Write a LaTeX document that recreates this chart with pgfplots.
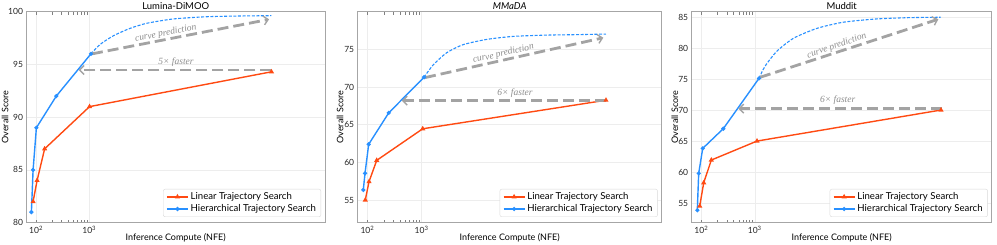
\documentclass[border=0pt]{standalone}
\usepackage{pgfplots}
\pgfplotsset{compat=1.18}
\usepackage{fontspec}
\setmainfont{Lato}
\newfontfamily\annfont{Liberation Serif}
\usetikzlibrary{arrows.meta}
\definecolor{cred}{HTML}{FF4A12}
\definecolor{cblue}{HTML}{2890FF}
\definecolor{cgray}{HTML}{A3A3A3}
\definecolor{tgray}{HTML}{8C8C8C}
\pgfplotsset{
  every axis title/.style={font=\fontsize{9.5}{10}\selectfont, at={(0.5,1)}, anchor=center, yshift=6pt},
  every axis x label/.style={at={(0.5,0)}, anchor=center, yshift=-15pt},
  myax/.style={
    scale only axis, height=211pt, anchor=south west,
    xmin=66.07, xmax=2.723e7,
    xtick={100,1000}, xticklabels={10\textsuperscript{2},10\textsuperscript{3}},
    /pgf/number format/assume math mode=true,
    major tick length=0pt,
    grid=major,
    major grid style={draw=black!7, line width=0.5pt},
    axis line style={draw=black!35, line width=0.7pt},
    tick label style={font=\fontsize{8.5}{9}\selectfont, text=black!85},
    label style={font=\fontsize{9}{10}\selectfont},
    xlabel={Inference Compute (NFE)},
    ylabel={Overall Score},
    legend style={at={(rel axis cs:0.987,0.027)}, anchor=south east,
      font=\fontsize{9.6}{11}\selectfont, draw=black!15, rounded corners=2pt,
      inner xsep=3pt, inner ysep=1.5pt, row sep=-0.5pt},
    legend cell align=left,
    legend image code/.code={\draw[mark repeat=2,mark phase=2] plot coordinates {(0cm,0cm)(0.37cm,0cm)(0.74cm,0cm)};},
  },
  redline/.style={cred, line width=1.4pt, mark=triangle*, mark size=1.6pt, mark options={solid}},
  blueline/.style={cblue, line width=1.4pt, mark=*, mark size=1.3pt, mark options={solid}},
  predline/.style={cblue, line width=1.1pt, dash pattern=on 3pt off 1.6pt, smooth, tension=0.4},
}
\tikzset{
  garrow/.style={cgray, line width=2.8pt, dash pattern=on 11pt off 5pt,
    -{Straight Barb[line width=1.4pt, length=4.5pt, width=9pt]}},
  anntext/.style={font=\annfont\itshape\fontsize{9.5}{10}\selectfont, text=tgray},
}
\begin{document}
\begin{tikzpicture}[x=1pt,y=1pt]
\useasboundingbox (0,0) rectangle (997,244);
% ---------------- Panel 1
\begin{axis}[xmode=log, myax, at={(26.5pt,21.33pt)}, width=298.5pt,
  ymin=80, ymax=100, ytick={80,85,90,95,100},
  title={Lumina-DiMOO},
  ylabel style={at={(axis description cs:-0.072,0.5)}, anchor=center}]
\addplot[redline] coordinates {(87.9,82) (104.5,84) (144.9,87) (1014,91) (2.68e6,94.3)};
\addlegendentry{Linear Trajectory Search}
\addplot[blueline] coordinates {(81.7,81) (87.9,85) (101.4,89) (240.4,92) (1076,96)};
\addlegendentry{Hierarchical Trajectory Search}
\addplot[predline, forget plot] coordinates {(1076,96.0) (1607,96.9) (2858,97.72) (5875,98.42) (1.211e4,98.9) (3.819e4,99.31) (1.614e5,99.52) (6.808e5,99.59) (2.679e6,99.62)};
\draw[garrow] (axis cs:1125,96.0) -- (axis cs:2.415e6,99.27);
\draw[garrow] (axis cs:2.68e6,94.47) -- (axis cs:631,94.47);
\node[anntext, rotate=11] at (axis cs:2.748e4,97.95) {curve prediction};
\node[anntext] at (axis cs:4.285e4,95.17) {5× faster};
\end{axis}
% ---------------- Panel 2
\begin{axis}[xmode=log, myax, at={(357.7pt,21.33pt)}, width=304pt,
  ymin=52, ymax=80, ytick={55,60,65,70,75},
  title={\textit{MMaDA}},
  ylabel style={at={(axis description cs:-0.058,0.5)}, anchor=center}]
\addplot[redline] coordinates {(91.2,55.0) (106.9,57.44) (148.3,60.27) (1050,64.46) (2.547e6,68.25)};
\addlegendentry{Linear Trajectory Search}
\addplot[blueline] coordinates {(83.8,56.34) (90.2,58.55) (105.4,62.4) (247.2,66.57) (1109,71.3)};
\addlegendentry{Hierarchical Trajectory Search}
\addplot[predline, forget plot] coordinates {(1109,71.3) (1644,72.95) (2911,74.55) (5834,75.62) (1.596e4,76.32) (4.943e4,76.72) (2.046e5,76.89) (7.328e5,76.95) (2.547e6,77.03)};
\draw[garrow] (axis cs:1156,71.25) -- (axis cs:2.275e6,76.54);
\draw[garrow] (axis cs:2.547e6,68.2) -- (axis cs:429.5,68.2);
\node[anntext, rotate=13] at (axis cs:3.236e4,74.43) {curve prediction};
\node[anntext] at (axis cs:5.321e4,69.13) {6× faster};
\end{axis}
% ---------------- Panel 3
\begin{axis}[xmode=log, myax, at={(691.7pt,21.33pt)}, width=300pt,
  ymin=51.9, ymax=85.9, ytick={55,60,65,70,75,80,85},
  title={Muddit},
  ylabel style={at={(axis description cs:-0.056,0.5)}, anchor=center}]
\addplot[redline] coordinates {(93.3,54.57) (110.9,58.33) (153.8,61.99) (1102,65.05) (3.062e6,70.05)};
\addlegendentry{Linear Trajectory Search}
\addplot[blueline] coordinates {(84.1,53.9) (89.3,59.84) (106.2,63.87) (257.6,67.04) (1202,75.16)};
\addlegendentry{Hierarchical Trajectory Search}
\addplot[predline, forget plot] coordinates {(1202,75.16) (1556,77.1) (2576,79.5) (5272,81.6) (1.445e4,83.2) (4.539e4,84.2) (1.914e5,84.73) (8.054e5,84.94) (3.02e6,85.0)};
\draw[garrow] (axis cs:1253,75.32) -- (axis cs:2.723e6,84.68);
\draw[garrow] (axis cs:3.155e6,70.27) -- (axis cs:492,70.27);
\node[anntext, rotate=19] at (axis cs:3.42e4,80.4) {curve prediction};
\node[anntext] at (axis cs:3.565e4,71.67) {6× faster};
\end{axis}
\end{tikzpicture}
\end{document}
